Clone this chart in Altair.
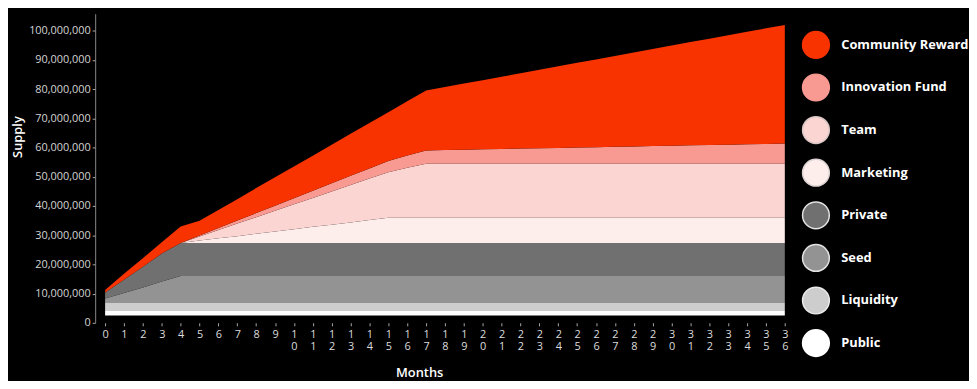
import altair as alt
import pandas as pd

# ---------------- data (values in millions of tokens) ----------------
months = list(range(37))

public = [1.5, 1.5, 1.5, 1.5, 1.5, 1.5, 1.5, 1.5, 1.5, 1.5, 1.5, 1.5, 1.5, 1.5, 1.5, 1.5, 1.5, 1.5, 1.5,
          1.5, 1.5, 1.5, 1.5, 1.5, 1.5, 1.5, 1.5, 1.5, 1.5, 1.5, 1.5, 1.5, 1.5, 1.5, 1.5, 1.5, 1.5]
liquidity = [2.8, 2.8, 2.8, 2.8, 2.8, 2.8, 2.8, 2.8, 2.8, 2.8, 2.8, 2.8, 2.8, 2.8, 2.8, 2.8, 2.8, 2.8, 2.8,
             2.8, 2.8, 2.8, 2.8, 2.8, 2.8, 2.8, 2.8, 2.8, 2.8, 2.8, 2.8, 2.8, 2.8, 2.8, 2.8, 2.8, 2.8]
seed = [1.5, 3.4, 5.3, 7.3, 9.2, 9.2, 9.2, 9.2, 9.2, 9.2, 9.2, 9.2, 9.2, 9.2, 9.2, 9.2, 9.2, 9.2, 9.2,
        9.2, 9.2, 9.2, 9.2, 9.2, 9.2, 9.2, 9.2, 9.2, 9.2, 9.2, 9.2, 9.2, 9.2, 9.2, 9.2, 9.2, 9.2]
private = [2.1, 4.5, 7.1, 9.6, 11.35, 11.35, 11.35, 11.35, 11.35, 11.35, 11.35, 11.35, 11.35, 11.35,
           11.35, 11.35, 11.35, 11.35, 11.35, 11.35, 11.35, 11.35, 11.35, 11.35, 11.35, 11.35, 11.35,
           11.35, 11.35, 11.35, 11.35, 11.35, 11.35, 11.35, 11.35, 11.35, 11.35]
marketing = [0, 0, 0, 0, 0, 0.8, 1.6, 2.3, 3.1, 3.9, 4.7, 5.5, 6.2, 7.0, 7.8, 8.6, 8.6, 8.6, 8.6,
             8.6, 8.6, 8.6, 8.6, 8.6, 8.6, 8.6, 8.6, 8.6, 8.6, 8.6, 8.6, 8.6, 8.6, 8.6, 8.6, 8.6, 8.6]
team = [0, 0, 0, 0, 0, 1.4, 2.8, 4.3, 5.7, 7.1, 8.5, 9.9, 11.4, 12.8, 14.2, 15.6, 17.1, 18.5, 18.5,
        18.5, 18.5, 18.5, 18.5, 18.5, 18.5, 18.5, 18.5, 18.5, 18.5, 18.5, 18.5, 18.5, 18.5, 18.5, 18.5,
        18.5, 18.5]
innovation = [0, 0, 0, 0, 0, 0.35, 0.7, 1.05, 1.4, 1.75, 2.1, 2.45, 2.8, 3.15, 3.5, 3.85, 4.2, 4.55,
              4.67, 4.8, 4.92, 5.05, 5.17, 5.29, 5.42, 5.54, 5.66, 5.79, 5.91, 6.04, 6.16, 6.28, 6.41,
              6.53, 6.65, 6.78, 6.9]
community = [0.8, 2.1, 2.9, 3.9, 5.65, 5.0, 6.15, 7.3, 8.55, 9.7, 10.85, 12.0, 13.15, 14.4, 15.55,
             16.7, 18.55, 20.5, 21.6, 22.65, 23.65, 24.7, 25.8, 26.85, 27.95, 29.0, 30.0, 31.05, 32.15,
             33.2, 34.3, 35.35, 36.35, 37.4, 38.5, 39.55, 40.55]

# the stacked areas sit slightly above the zero line in the original
stack_floor_millions = 2.5

stack_order = ["Public", "Liquidity", "Seed", "Private", "Marketing", "Team",
               "Innovation Fund", "Community Reward"]
stack_values = [public, liquidity, seed, private, marketing, team, innovation, community]

legend_order = ["Community Reward", "Innovation Fund", "Team", "Marketing",
                "Private", "Seed", "Liquidity", "Public"]
fill_colors = ["#F83300", "#F89A92", "#FBD5D2", "#FDEDEB",
               "#707070", "#939393", "#CDCDCD", "#FFFFFF"]
stroke_colors = ["#F83300", "#F89A92", "#D9C6C4", "#DCD3D2",
                 "#E2E2E2", "#E2E2E2", "#EAEAEA", "#FFFFFF"]

y_ticks = [0, 10, 20, 30, 40, 50, 60, 70, 80, 90, 100]

rows = []
for idx, (name, vals) in enumerate(zip(stack_order, stack_values)):
    for m, v in zip(months, vals):
        rows.append({"month": m, "series": name, "order": idx, "value": v * 1e6})
df = pd.DataFrame(rows)

floor = stack_floor_millions * 1e6

legend = alt.Legend(
    title=None, orient="none", legendX=713, legendY=17,
    symbolType="circle", symbolSize=729, symbolStrokeWidth=1.5, symbolOpacity=1,
    labelFontSize=13, labelFontWeight="bold", labelColor="#FFFFFF", labelFont="Open Sans",
    labelOffset=11, rowPadding=10, padding=0, labelLimit=200,
)

chart = alt.Chart(df).transform_stack(
    stack="value", groupby=["month"], as_=["s0", "s1"],
    sort=[alt.SortField("order", order="ascending")],
).transform_calculate(
    lo=f"datum.s0 + {floor}", hi=f"datum.s1 + {floor}",
).mark_area(interpolate="linear", strokeWidth=0).encode(
    x=alt.X(
        "month:Q",
        scale=alt.Scale(domain=[-0.525, 36.1], nice=False, zero=False),
        axis=alt.Axis(
            values=months, format="d", labelExpr="split(datum.label, '')",
            labelAngle=0, labelFontSize=11, labelColor="#DDDDDD", labelLineHeight=12,
            labelFlush=False, labelOverlap=False, labelPadding=3, labelBound=False,
            tickSize=3, tickColor="#AAAAAA", domain=False, grid=False,
            title="Months", titleColor="#FFFFFF", titleFontSize=13, titleFontWeight=600,
            titleX=327, titleY=50, titleBaseline="middle", titleAlign="center",
        ),
    ),
    y=alt.Y(
        "hi:Q",
        scale=alt.Scale(domain=[0, 105.8e6], nice=False),
        axis=alt.Axis(
            values=[t * 1e6 for t in y_ticks], format=",d",
            labelFontSize=11, labelColor="#D4D4D4", labelPadding=2,
            tickSize=3, tickColor="#AAAAAA", domainColor="#8A8A8A", grid=False,
            title="Supply", titleColor="#FFFFFF", titleFontSize=13, titleFontWeight=600,
            titleX=-78, titleY=124, titleAngle=270, titleAlign="center", titleBaseline="middle",
        ),
    ),
    y2="lo:Q",
    color=alt.Color("series:N", scale=alt.Scale(domain=legend_order, range=fill_colors), legend=legend),
    stroke=alt.Stroke("series:N", scale=alt.Scale(domain=legend_order, range=stroke_colors), legend=legend),
).properties(
    width=698, height=312,
    padding={"left": 4, "top": 4, "right": 0, "bottom": 0},
    background="#000000",
).configure(
    font="Open Sans",
).configure_view(
    stroke=None,
)

chart.save("out.html", embed_options={"renderer": "svg", "actions": False})
